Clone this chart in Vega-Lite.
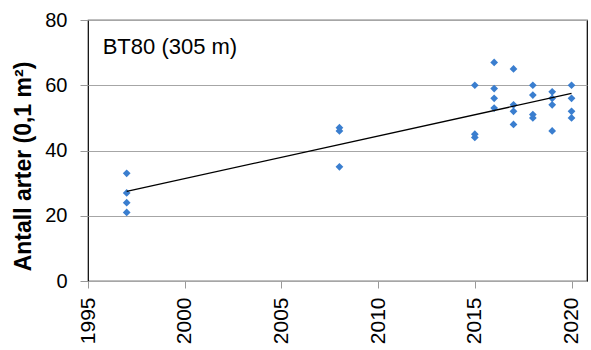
{
  "$schema": "https://vega.github.io/schema/vega-lite/v6.json",
  "width": 499,
  "height": 261,
  "autosize": {"type": "none"},
  "padding": {"left": 88, "top": 20, "right": 4, "bottom": 69},
  "background": "white",
  "config": {
    "view": {"stroke": "#000000", "strokeWidth": 1.2},
    "font": "Liberation Sans"
  },
  "datasets": {
    "pts": [
      {"year": 1997, "n": 33}, {"year": 1997, "n": 27}, {"year": 1997, "n": 24}, {"year": 1997, "n": 21},
      {"year": 2008, "n": 47}, {"year": 2008, "n": 46}, {"year": 2008, "n": 35},
      {"year": 2015, "n": 60}, {"year": 2015, "n": 45}, {"year": 2015, "n": 44},
      {"year": 2016, "n": 67}, {"year": 2016, "n": 59}, {"year": 2016, "n": 56}, {"year": 2016, "n": 53},
      {"year": 2017, "n": 65}, {"year": 2017, "n": 54}, {"year": 2017, "n": 52}, {"year": 2017, "n": 48},
      {"year": 2018, "n": 60}, {"year": 2018, "n": 57}, {"year": 2018, "n": 51}, {"year": 2018, "n": 50},
      {"year": 2019, "n": 58}, {"year": 2019, "n": 56}, {"year": 2019, "n": 54}, {"year": 2019, "n": 46},
      {"year": 2020, "n": 60}, {"year": 2020, "n": 56}, {"year": 2020, "n": 52}, {"year": 2020, "n": 50}
    ],
    "lbl": [{"label": "BT80 (305 m)"}]
  },
  "layer": [
    {
      "data": {"name": "pts"},
      "mark": {"type": "point", "shape": "diamond", "filled": true, "size": 60, "color": "#3a7ecf", "opacity": 1},
      "encoding": {
        "x": {
          "field": "year", "type": "quantitative",
          "scale": {"domain": [1995, 2020.8], "nice": false, "zero": false},
          "axis": {
            "values": [1995, 2000, 2005, 2010, 2015, 2020],
            "format": "d",
            "title": null,
            "grid": false,
            "domain": false,
            "tickColor": "#999999",
            "tickSize": 7,
            "labelAngle": -90,
            "labelAlign": "right",
            "labelBaseline": "middle",
            "labelPadding": 9,
            "labelFontSize": 21,
            "labelColor": "#000000",
            "labelFont": "Liberation Sans"
          }
        },
        "y": {
          "field": "n", "type": "quantitative",
          "scale": {"domain": [0, 80], "nice": false},
          "axis": {
            "values": [0, 20, 40, 60, 80],
            "title": "Antall arter (0,1 m²)",
            "titleFont": "Liberation Sans",
            "titleFontSize": 23,
            "titleFontWeight": "bold",
            "titleColor": "#000000",
            "titleAngle": 270,
            "titleAlign": "center",
            "titleBaseline": "middle",
            "titleX": -65,
            "titleY": 146,
            "grid": true,
            "gridColor": "#a6a6a6",
            "gridWidth": 1,
            "domain": false,
            "tickColor": "#999999",
            "tickSize": 8,
            "labelPadding": 13,
            "labelFontSize": 20,
            "labelColor": "#000000",
            "labelFont": "Liberation Sans"
          }
        }
      }
    },
    {
      "data": {"name": "pts"},
      "transform": [{"regression": "n", "on": "year"}],
      "mark": {"type": "line", "color": "#000000", "strokeWidth": 1.3},
      "encoding": {
        "x": {"field": "year", "type": "quantitative"},
        "y": {"field": "n", "type": "quantitative"}
      }
    },
    {
      "data": {"name": "lbl"},
      "mark": {"type": "text", "align": "left", "baseline": "alphabetic", "fontSize": 22, "font": "Liberation Sans", "color": "#000000"},
      "encoding": {
        "x": {"datum": 1995.76},
        "y": {"datum": 69.5},
        "text": {"field": "label"}
      }
    }
  ]
}
